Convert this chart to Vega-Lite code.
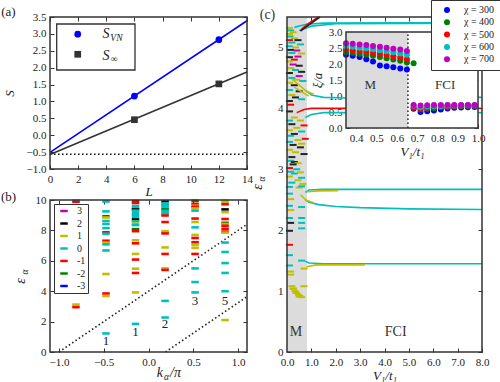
{
"$schema": "https://vega.github.io/schema/vega-lite/v6.json",
"width": 500, "height": 382,
"autosize": {"type": "none"},
"padding": 0,
"background": "white",
"config": {
  "view": {"stroke": null},
  "font": "Liberation Serif",
  "axis": {"grid": false, "domain": false, "tickColor": "#333", "tickSize": -4, "tickWidth": 1, "labelPadding": 8, "labelFont": "Liberation Serif", "labelFontSize": 11, "labelColor": "#222", "labelFlush": false, "labelOverlap": false, "labelBound": false, "titleFont": "Liberation Serif", "titleFontWeight": "normal", "titleFontSize": 13, "titleColor": "#222"},
  "legend": {"labelFont": "Liberation Serif", "labelColor": "#222", "strokeColor": "#333", "fillColor": "white", "title": null},
  "text": {"font": "Liberation Serif", "color": "#222"}
},
"datasets": {
  "a_pts": [{"x":6,"y":1.16,"s":"SVN"},{"x":12,"y":2.83,"s":"SVN"},{"x":6,"y":0.46,"s":"Sinf"},{"x":12,"y":1.52,"s":"Sinf"}],
  "a_fit": [{"x":0,"y":-0.51,"s":"SVN"},{"x":14,"y":3.39,"s":"SVN"},{"x":0,"y":-0.57,"s":"Sinf"},{"x":14,"y":1.87,"s":"Sinf"}],
  "a_ref": [{"x":0,"y":-0.56},{"x":14,"y":-0.56}],
  "a_frame": [{"x":0,"x2":14,"y":-1,"y2":3.5}],
  "a_legbox": [{"x":0.476,"x2":6.04,"y":1.931,"y2":3.293}],
  "a_legpts": [{"x":1.97,"y":2.99,"s":"SVN"},{"x":1.97,"y":2.396,"s":"Sinf"}],
  "a_txt_main": [{"x":3.98,"y":2.997,"t":"S"},{"x":3.98,"y":2.36,"t":"S"}],
  "a_txt_sub": [{"x":4.72,"y":2.878,"t":"VN"},{"x":4.55,"y":2.271,"t":"∞"}],
  "a_label": [{"x":-2.95,"y":3.65,"t":"(a)"}],
  "b_frame": [{"x":-1.1,"x2":1.1,"y":0,"y2":10}],
  "b_lines": [{"x":-1.0,"y":0,"id":"l1"},{"x":1.1,"y":8.4,"id":"l1"},{"x":0.19,"y":0,"id":"l2"},{"x":1.1,"y":3.64,"id":"l2"}],
  "b_dash": [
    {"x":-0.81,"y":9.95,"q":"0"},{"x":-0.81,"y":9.88,"q":"-1"},{"x":-0.81,"y":3.12,"q":"1"},{"x":-0.81,"y":2.95,"q":"-1"},
    {"x":-0.475,"y":9.9,"q":"0"},{"x":-0.475,"y":9.25,"q":"0"},{"x":-0.475,"y":8.93,"q":"-2"},{"x":-0.475,"y":8.85,"q":"1"},{"x":-0.475,"y":8.62,"q":"0"},{"x":-0.475,"y":8.42,"q":"0"},{"x":-0.475,"y":8.15,"q":"0"},{"x":-0.475,"y":7.88,"q":"-1"},{"x":-0.475,"y":7.78,"q":"0"},{"x":-0.475,"y":7.32,"q":"-1"},{"x":-0.475,"y":7.2,"q":"1"},{"x":-0.475,"y":7.08,"q":"0"},{"x":-0.475,"y":6.68,"q":"0"},{"x":-0.475,"y":5.13,"q":"1"},{"x":-0.475,"y":3.85,"q":"-1"},{"x":-0.475,"y":3.68,"q":"1"},{"x":-0.475,"y":1.22,"q":"0"},
    {"x":-0.145,"y":9.93,"q":"-1"},{"x":-0.145,"y":9.8,"q":"-1"},{"x":-0.145,"y":9.6,"q":"0"},{"x":-0.145,"y":9.45,"q":"0"},{"x":-0.145,"y":9.38,"q":"2"},{"x":-0.145,"y":9.3,"q":"0"},{"x":-0.145,"y":9.15,"q":"0"},{"x":-0.145,"y":9.02,"q":"0"},{"x":-0.145,"y":8.88,"q":"0"},{"x":-0.145,"y":8.72,"q":"2"},{"x":-0.145,"y":8.6,"q":"0"},{"x":-0.145,"y":8.45,"q":"1"},{"x":-0.145,"y":8.35,"q":"0"},{"x":-0.145,"y":8.08,"q":"-2"},{"x":-0.145,"y":7.95,"q":"-1"},{"x":-0.145,"y":7.35,"q":"1"},{"x":-0.145,"y":7.15,"q":"-1"},{"x":-0.145,"y":6.45,"q":"1"},{"x":-0.145,"y":6.08,"q":"-1"},{"x":-0.145,"y":5.48,"q":"1"},{"x":-0.145,"y":5.2,"q":"-1"},{"x":-0.145,"y":3.92,"q":"1"},{"x":-0.145,"y":1.85,"q":"0"},
    {"x":0.185,"y":9.9,"q":"2"},{"x":0.185,"y":9.78,"q":"0"},{"x":0.185,"y":9.68,"q":"0"},{"x":0.185,"y":9.58,"q":"0"},{"x":0.185,"y":9.45,"q":"0"},{"x":0.185,"y":9.38,"q":"-2"},{"x":0.185,"y":9.28,"q":"0"},{"x":0.185,"y":9.18,"q":"0"},{"x":0.185,"y":9.08,"q":"0"},{"x":0.185,"y":8.98,"q":"-1"},{"x":0.185,"y":8.55,"q":"-1"},{"x":0.185,"y":7.95,"q":"1"},{"x":0.185,"y":7.86,"q":"1"},{"x":0.185,"y":7.8,"q":"-1"},{"x":0.185,"y":6.88,"q":"1"},{"x":0.185,"y":6.45,"q":"-1"},{"x":0.185,"y":5.5,"q":"1"},{"x":0.185,"y":5.4,"q":"-1"},{"x":0.185,"y":3.36,"q":"0"},{"x":0.185,"y":2.27,"q":"0"},
    {"x":0.52,"y":9.95,"q":"-2"},{"x":0.52,"y":9.75,"q":"-1"},{"x":0.52,"y":9.62,"q":"1"},{"x":0.52,"y":9.55,"q":"-1"},{"x":0.52,"y":9.45,"q":"1"},{"x":0.52,"y":9.3,"q":"0"},{"x":0.52,"y":8.78,"q":"-1"},{"x":0.52,"y":8.55,"q":"1"},{"x":0.52,"y":8.2,"q":"0"},{"x":0.52,"y":7.7,"q":"1"},{"x":0.52,"y":7.5,"q":"-1"},{"x":0.52,"y":7.22,"q":"-1"},{"x":0.52,"y":7.05,"q":"1"},{"x":0.52,"y":6.85,"q":"1"},{"x":0.52,"y":6.45,"q":"-1"},{"x":0.52,"y":5.5,"q":"0"},{"x":0.52,"y":4.6,"q":"0"},{"x":0.52,"y":3.92,"q":"0"},
    {"x":0.855,"y":9.95,"q":"1"},{"x":0.855,"y":9.85,"q":"1"},{"x":0.855,"y":9.72,"q":"-1"},{"x":0.855,"y":9.38,"q":"2"},{"x":0.855,"y":9.2,"q":"1"},{"x":0.855,"y":8.75,"q":"-1"},{"x":0.855,"y":8.5,"q":"-2"},{"x":0.855,"y":8.42,"q":"1"},{"x":0.855,"y":8.3,"q":"-1"},{"x":0.855,"y":8.1,"q":"-1"},{"x":0.855,"y":7.92,"q":"-1"},{"x":0.855,"y":7.85,"q":"1"},{"x":0.855,"y":7.2,"q":"0"},{"x":0.855,"y":6.58,"q":"0"},{"x":0.855,"y":5.85,"q":"0"},{"x":0.855,"y":5.2,"q":"0"},{"x":0.855,"y":4.0,"q":"0"},{"x":0.855,"y":2.1,"q":"1"}
  ],
  "b_num": [{"x":-0.475,"y":0.74,"t":"1"},{"x":-0.145,"y":1.34,"t":"1"},{"x":0.185,"y":1.82,"t":"2"},{"x":0.52,"y":3.37,"t":"3"},{"x":0.855,"y":3.37,"t":"5"}],
  "b_label": [{"x":-1.563,"y":10.2,"t":"(b)"}],
  "b_eps": [{"x":-1.424,"y":4.67,"t":"ε"}],
  "b_eps_sub": [{"x":-1.379,"y":5.26,"t":"α"}],
  "b_xt": [{"x":0.128,"y":-1.38,"t":"k"}],
  "b_xt_sub": [{"x":0.201,"y":-1.64,"t":"α"}],
  "b_xt_rest": [{"x":0.302,"y":-1.38,"t":"/π"}],
  "c_frame": [{"x":0,"x2":8,"y":0,"y2":5.5}],
  "c_gray": [{"x":0,"x2":0.82,"y":0,"y2":5.5}],
  "c_lines": [
    {"id":"top1","q":"0","x":0.3,"y":5.33},{"id":"top1","q":"0","x":0.8,"y":5.38},{"id":"top1","q":"0","x":1.5,"y":5.4},{"id":"top1","q":"0","x":8,"y":5.41},
    {"id":"top2","q":"0","x":0.5,"y":5.28},{"id":"top2","q":"0","x":1.0,"y":5.35},{"id":"top2","q":"0","x":2.0,"y":5.39},{"id":"top2","q":"0","x":8,"y":5.4},
    {"id":"topr","q":"-1","x":0.6,"y":5.3},{"id":"topr","q":"-1","x":0.9,"y":5.4},{"id":"topr","q":"-1","x":1.3,"y":5.5},
    {"id":"topk","q":"2","x":0.55,"y":5.27},{"id":"topk","q":"2","x":0.9,"y":5.37},{"id":"topk","q":"2","x":1.35,"y":5.5},
    {"id":"r4","q":"-1","x":0.4,"y":3.93},{"id":"r4","q":"-1","x":0.7,"y":3.98},{"id":"r4","q":"-1","x":1.0,"y":4.0},{"id":"r4","q":"-1","x":8,"y":4.0},
    {"id":"c41","q":"0","x":0.75,"y":4.3},{"id":"c41","q":"0","x":1.0,"y":4.22},{"id":"c41","q":"0","x":1.5,"y":4.18},{"id":"c41","q":"0","x":2.5,"y":4.17},{"id":"c41","q":"0","x":8,"y":4.18},
    {"id":"c42","q":"0","x":0.75,"y":3.85},{"id":"c42","q":"0","x":1.0,"y":3.9},{"id":"c42","q":"0","x":1.5,"y":3.93},{"id":"c42","q":"0","x":8,"y":3.93},
    {"id":"y41","q":"1","x":0.2,"y":4.48},{"id":"y41","q":"1","x":0.5,"y":4.38},{"id":"y41","q":"1","x":0.8,"y":4.28},{"id":"y41","q":"1","x":1.1,"y":4.23},
    {"id":"y42","q":"1","x":0.3,"y":4.35},{"id":"y42","q":"1","x":0.6,"y":4.27},{"id":"y42","q":"1","x":0.9,"y":4.2},
    {"id":"c267","q":"0","x":0.75,"y":2.62},{"id":"c267","q":"0","x":0.9,"y":2.66},{"id":"c267","q":"0","x":1.5,"y":2.67},{"id":"c267","q":"0","x":8,"y":2.67},
    {"id":"y265","q":"1","x":0.8,"y":2.63},{"id":"y265","q":"1","x":1.3,"y":2.645},{"id":"y265","q":"1","x":2.1,"y":2.65},
    {"id":"c235","q":"0","x":0.75,"y":2.5},{"id":"c235","q":"0","x":0.9,"y":2.46},{"id":"c235","q":"0","x":1.3,"y":2.42},{"id":"c235","q":"0","x":2,"y":2.39},{"id":"c235","q":"0","x":3,"y":2.37},{"id":"c235","q":"0","x":5,"y":2.35},{"id":"c235","q":"0","x":8,"y":2.34},
    {"id":"y245","q":"1","x":0.55,"y":2.58},{"id":"y245","q":"1","x":0.8,"y":2.49},{"id":"y245","q":"1","x":1.1,"y":2.45},
    {"id":"c145","q":"0","x":0.75,"y":1.49},{"id":"c145","q":"0","x":0.9,"y":1.46},{"id":"c145","q":"0","x":1.5,"y":1.45},{"id":"c145","q":"0","x":8,"y":1.45},
    {"id":"y143","q":"1","x":0.8,"y":1.4},{"id":"y143","q":"1","x":1.2,"y":1.43},{"id":"y143","q":"1","x":3.2,"y":1.43}
  ],
  "c_dash": [
    {"x":0.1,"y":5.32,"q":"1"},{"x":0.15,"y":5.28,"q":"0"},{"x":0.1,"y":5.22,"q":"1"},{"x":0.25,"y":5.25,"q":"1"},{"x":0.12,"y":5.18,"q":"0"},{"x":0.3,"y":5.15,"q":"1"},
    {"x":0.1,"y":5.12,"q":"-1"},{"x":0.45,"y":5.12,"q":"2"},{"x":0.2,"y":5.08,"q":"0"},{"x":0.1,"y":5.02,"q":"0"},{"x":0.35,"y":5.0,"q":"1"},{"x":0.55,"y":5.05,"q":"0"},
    {"x":0.15,"y":4.96,"q":"2"},{"x":0.4,"y":4.95,"q":"3"},{"x":0.2,"y":4.91,"q":"0"},{"x":0.6,"y":4.9,"q":"1"},{"x":0.45,"y":4.85,"q":"3"},{"x":0.1,"y":4.84,"q":"2"},
    {"x":0.3,"y":4.8,"q":"-1"},{"x":0.1,"y":4.77,"q":"1"},{"x":0.25,"y":4.72,"q":"3"},{"x":0.5,"y":4.7,"q":"2"},{"x":0.15,"y":4.66,"q":"1"},{"x":0.35,"y":4.63,"q":"0"},
    {"x":0.6,"y":4.6,"q":"2"},{"x":0.1,"y":4.58,"q":"2"},{"x":0.5,"y":4.53,"q":"3"},{"x":0.2,"y":4.5,"q":"0"},{"x":0.4,"y":4.47,"q":"1"},{"x":0.1,"y":4.42,"q":"1"},
    {"x":0.65,"y":4.45,"q":"0"},{"x":0.3,"y":4.38,"q":"2"},{"x":0.1,"y":4.3,"q":"0"},{"x":0.5,"y":4.28,"q":"2"},{"x":0.2,"y":4.22,"q":"1"},{"x":0.35,"y":4.18,"q":"2"},{"x":0.6,"y":4.15,"q":"0"},{"x":0.1,"y":4.12,"q":"2"},{"x":0.15,"y":4.06,"q":"-1"},
    {"x":0.1,"y":3.95,"q":"2"},{"x":0.3,"y":3.85,"q":"1"},{"x":0.1,"y":3.8,"q":"0"},{"x":0.55,"y":3.8,"q":"1"},{"x":0.2,"y":3.74,"q":"2"},{"x":0.7,"y":3.72,"q":"-1"},{"x":0.4,"y":3.68,"q":"1"},
    {"x":0.1,"y":3.64,"q":"1"},{"x":0.6,"y":3.62,"q":"0"},{"x":0.3,"y":3.58,"q":"2"},{"x":0.15,"y":3.55,"q":"0"},{"x":0.75,"y":3.5,"q":"-1"},{"x":0.45,"y":3.48,"q":"1"},
    {"x":0.1,"y":3.45,"q":"0"},{"x":0.6,"y":3.42,"q":"1"},{"x":0.25,"y":3.4,"q":"2"},{"x":0.55,"y":3.36,"q":"2"},{"x":0.1,"y":3.32,"q":"1"},{"x":0.35,"y":3.28,"q":"1"},
    {"x":0.7,"y":3.25,"q":"2"},{"x":0.2,"y":3.2,"q":"2"},{"x":0.15,"y":3.14,"q":"0"},{"x":0.3,"y":3.12,"q":"2"},{"x":0.45,"y":3.1,"q":"1"},{"x":0.25,"y":3.08,"q":"2"},{"x":0.1,"y":3.02,"q":"-1"},
    {"x":0.4,"y":3.0,"q":"0"},{"x":0.15,"y":2.96,"q":"0"},{"x":0.3,"y":2.93,"q":"0"},{"x":0.55,"y":2.95,"q":"1"},{"x":0.1,"y":2.88,"q":"1"},{"x":0.6,"y":2.86,"q":"0"},
    {"x":0.45,"y":2.82,"q":"1"},{"x":0.2,"y":2.78,"q":"0"},{"x":0.65,"y":2.76,"q":"1"},{"x":0.1,"y":2.71,"q":"0"},{"x":0.5,"y":2.7,"q":"1"},
    {"x":0.6,"y":2.72,"q":"0"},{"x":0.1,"y":2.6,"q":"0"},{"x":0.15,"y":2.51,"q":"1"},{"x":0.1,"y":2.4,"q":"0"},{"x":0.6,"y":2.38,"q":"0"},
    {"x":0.15,"y":2.33,"q":"1"},{"x":0.1,"y":2.2,"q":"0"},{"x":0.6,"y":2.2,"q":"0"},{"x":0.15,"y":2.12,"q":"2"},{"x":0.6,"y":2.12,"q":"0"},{"x":0.6,"y":2.03,"q":"0"},{"x":0.1,"y":1.99,"q":"2"},
    {"x":0.1,"y":1.76,"q":"-1"},{"x":0.1,"y":1.59,"q":"0"},{"x":0.1,"y":1.42,"q":"0"},{"x":0.6,"y":1.5,"q":"0"},{"x":0.15,"y":1.32,"q":"1"},{"x":0.15,"y":1.27,"q":"1"},
    {"x":0.7,"y":1.37,"q":"1"},{"x":0.7,"y":1.08,"q":"1"},
    {"x":0.2,"y":1.08,"q":"1"},{"x":0.27,"y":1.04,"q":"1"},{"x":0.33,"y":1.0,"q":"1"},{"x":0.4,"y":0.97,"q":"1"},{"x":0.47,"y":0.94,"q":"1"},{"x":0.53,"y":0.92,"q":"1"},{"x":0.6,"y":0.9,"q":"1"},
    {"x":0.25,"y":1.04,"q":"1"},{"x":0.37,"y":0.97,"q":"1"},{"x":0.5,"y":0.91,"q":"1"}
  ],
  "c_txt": [{"x":0.37,"y":0.33,"t":"M"},{"x":4.46,"y":0.33,"t":"FCI"},{"x":-0.8,"y":5.53,"t":"(c)"}],
  "c_eps": [{"x":-1.19,"y":2.71,"t":"ε"}],
  "c_eps_sub": [{"x":-1.026,"y":2.84,"t":"α"}],
  "i_box": [{"x":0.35,"x2":1.0,"y":0,"y2":3}],
  "i_gray": [{"x":0.35,"x2":0.655,"y":0,"y2":3}],
  "i_vline": [{"x":0.655,"y":0,"y2":3}],
  "i_txt": [{"x":0.469,"y":1.34,"t":"M"},{"x":0.838,"y":1.34,"t":"FCI"}],
  "i_pts": [
    {"chi":"χ = 300","x":0.35,"y":2.29},{"chi":"χ = 300","x":0.383,"y":2.26},{"chi":"χ = 300","x":0.417,"y":2.22},{"chi":"χ = 300","x":0.45,"y":2.15},{"chi":"χ = 300","x":0.483,"y":2.08},{"chi":"χ = 300","x":0.517,"y":1.95},{"chi":"χ = 300","x":0.55,"y":1.93},{"chi":"χ = 300","x":0.583,"y":1.9},{"chi":"χ = 300","x":0.617,"y":1.86},{"chi":"χ = 300","x":0.65,"y":1.83},
    {"chi":"χ = 300","x":0.683,"y":0.6},{"chi":"χ = 300","x":0.717,"y":0.5},{"chi":"χ = 300","x":0.75,"y":0.52},{"chi":"χ = 300","x":0.783,"y":0.55},{"chi":"χ = 300","x":0.817,"y":0.58},{"chi":"χ = 300","x":0.85,"y":0.61},{"chi":"χ = 300","x":0.883,"y":0.63},{"chi":"χ = 300","x":0.917,"y":0.64},{"chi":"χ = 300","x":0.95,"y":0.65},{"chi":"χ = 300","x":0.983,"y":0.66},
    {"chi":"χ = 400","x":0.35,"y":2.37},{"chi":"χ = 400","x":0.383,"y":2.35},{"chi":"χ = 400","x":0.417,"y":2.32},{"chi":"χ = 400","x":0.45,"y":2.29},{"chi":"χ = 400","x":0.483,"y":2.26},{"chi":"χ = 400","x":0.517,"y":2.22},{"chi":"χ = 400","x":0.55,"y":2.18},{"chi":"χ = 400","x":0.583,"y":2.14},{"chi":"χ = 400","x":0.617,"y":2.1},{"chi":"χ = 400","x":0.65,"y":2.05},
    {"chi":"χ = 400","x":0.683,"y":2.02},{"chi":"χ = 400","x":0.717,"y":0.58},{"chi":"χ = 400","x":0.75,"y":0.6},{"chi":"χ = 400","x":0.783,"y":0.62},{"chi":"χ = 400","x":0.817,"y":0.65},{"chi":"χ = 400","x":0.85,"y":0.66},{"chi":"χ = 400","x":0.883,"y":0.67},{"chi":"χ = 400","x":0.917,"y":0.68},{"chi":"χ = 400","x":0.95,"y":0.69},{"chi":"χ = 400","x":0.983,"y":0.69},
    {"chi":"χ = 500","x":0.35,"y":2.45},{"chi":"χ = 500","x":0.383,"y":2.43},{"chi":"χ = 500","x":0.417,"y":2.4},{"chi":"χ = 500","x":0.45,"y":2.38},{"chi":"χ = 500","x":0.483,"y":2.35},{"chi":"χ = 500","x":0.517,"y":2.32},{"chi":"χ = 500","x":0.55,"y":2.28},{"chi":"χ = 500","x":0.583,"y":2.24},{"chi":"χ = 500","x":0.617,"y":2.2},{"chi":"χ = 500","x":0.65,"y":2.15},
    {"chi":"χ = 500","x":0.683,"y":0.63},{"chi":"χ = 500","x":0.717,"y":0.61},{"chi":"χ = 500","x":0.75,"y":0.63},{"chi":"χ = 500","x":0.783,"y":0.65},{"chi":"χ = 500","x":0.817,"y":0.67},{"chi":"χ = 500","x":0.85,"y":0.68},{"chi":"χ = 500","x":0.883,"y":0.69},{"chi":"χ = 500","x":0.917,"y":0.7},{"chi":"χ = 500","x":0.95,"y":0.7},{"chi":"χ = 500","x":0.983,"y":0.7},
    {"chi":"χ = 600","x":0.35,"y":2.56},{"chi":"χ = 600","x":0.383,"y":2.54},{"chi":"χ = 600","x":0.417,"y":2.51},{"chi":"χ = 600","x":0.45,"y":2.49},{"chi":"χ = 600","x":0.483,"y":2.46},{"chi":"χ = 600","x":0.517,"y":2.43},{"chi":"χ = 600","x":0.55,"y":2.4},{"chi":"χ = 600","x":0.583,"y":2.37},{"chi":"χ = 600","x":0.617,"y":2.33},{"chi":"χ = 600","x":0.65,"y":2.29},
    {"chi":"χ = 600","x":0.683,"y":0.7},{"chi":"χ = 600","x":0.717,"y":0.66},{"chi":"χ = 600","x":0.75,"y":0.67},{"chi":"χ = 600","x":0.783,"y":0.68},{"chi":"χ = 600","x":0.817,"y":0.69},{"chi":"χ = 600","x":0.85,"y":0.7},{"chi":"χ = 600","x":0.883,"y":0.7},{"chi":"χ = 600","x":0.917,"y":0.71},{"chi":"χ = 600","x":0.95,"y":0.71},{"chi":"χ = 600","x":0.983,"y":0.71},
    {"chi":"χ = 700","x":0.35,"y":2.65},{"chi":"χ = 700","x":0.383,"y":2.63},{"chi":"χ = 700","x":0.417,"y":2.61},{"chi":"χ = 700","x":0.45,"y":2.59},{"chi":"χ = 700","x":0.483,"y":2.56},{"chi":"χ = 700","x":0.517,"y":2.54},{"chi":"χ = 700","x":0.55,"y":2.51},{"chi":"χ = 700","x":0.583,"y":2.48},{"chi":"χ = 700","x":0.617,"y":2.45},{"chi":"χ = 700","x":0.65,"y":2.41},
    {"chi":"χ = 700","x":0.683,"y":0.72},{"chi":"χ = 700","x":0.717,"y":0.7},{"chi":"χ = 700","x":0.75,"y":0.71},{"chi":"χ = 700","x":0.783,"y":0.72},{"chi":"χ = 700","x":0.817,"y":0.72},{"chi":"χ = 700","x":0.85,"y":0.72},{"chi":"χ = 700","x":0.883,"y":0.72},{"chi":"χ = 700","x":0.917,"y":0.72},{"chi":"χ = 700","x":0.95,"y":0.72},{"chi":"χ = 700","x":0.983,"y":0.72}
  ]
},
"layer": [
  {
    "layer": [
      {"data": {"name": "a_ref"}, "mark": {"type": "line", "color": "black", "strokeDash": [1.5, 2.5], "strokeWidth": 1.5},
       "encoding": {"x": {"field": "x", "type": "quantitative", "scale": {"domain": [0, 14], "range": [50, 247], "nice": false, "zero": false}, "axis": null},
                    "y": {"field": "y", "type": "quantitative", "scale": {"domain": [-1, 3.5], "range": [169, 17], "nice": false, "zero": false}, "axis": null}}},
      {"data": {"name": "a_fit"}, "mark": {"type": "line", "strokeWidth": 1.6},
       "encoding": {"x": {"field": "x", "type": "quantitative", "scale": {"domain": [0, 14], "range": [50, 247], "nice": false, "zero": false}, "axis": null},
                    "y": {"field": "y", "type": "quantitative", "scale": {"domain": [-1, 3.5], "range": [169, 17], "nice": false, "zero": false}, "axis": null},
                    "color": {"field": "s", "type": "nominal", "scale": {"domain": ["SVN", "Sinf"], "range": ["#0000ff", "#333333"]}, "legend": null}}},
      {"data": {"name": "a_pts"}, "mark": {"type": "point", "filled": true, "size": 45, "opacity": 1},
       "encoding": {"x": {"field": "x", "type": "quantitative", "scale": {"domain": [0, 14], "range": [50, 247], "nice": false, "zero": false},
                          "axis": {"orient": "bottom", "offset": -213, "values": [0, 2, 4, 6, 8, 10, 12, 14], "format": "d", "title": "L", "titleFontStyle": "italic", "titlePadding": 1}},
                    "y": {"field": "y", "type": "quantitative", "scale": {"domain": [-1, 3.5], "range": [169, 17], "nice": false, "zero": false},
                          "axis": {"orient": "left", "offset": -50, "values": [-1, -0.5, 0, 0.5, 1, 1.5, 2, 2.5, 3, 3.5], "format": ".1f", "title": "S", "titleFontStyle": "italic", "titlePadding": 10}},
                    "color": {"field": "s", "type": "nominal", "scale": {"domain": ["SVN", "Sinf"], "range": ["#0000ff", "#333333"]}, "legend": null},
                    "shape": {"field": "s", "type": "nominal", "scale": {"domain": ["SVN", "Sinf"], "range": ["circle", "square"]}, "legend": null}}},
      {"data": {"name": "a_frame"}, "mark": {"type": "rect", "filled": false, "stroke": "#333", "strokeWidth": 1.5},
       "encoding": {"x": {"field": "x", "type": "quantitative", "scale": {"domain": [0, 14], "range": [50, 247], "nice": false, "zero": false},
                          "axis": {"orient": "top", "offset": -17, "values": [0, 2, 4, 6, 8, 10, 12, 14], "labels": false, "title": null}},
                    "x2": {"field": "x2"},
                    "y": {"field": "y", "type": "quantitative", "scale": {"domain": [-1, 3.5], "range": [169, 17], "nice": false, "zero": false},
                          "axis": {"orient": "right", "offset": -253, "values": [-1, -0.5, 0, 0.5, 1, 1.5, 2, 2.5, 3, 3.5], "labels": false, "title": null}},
                    "y2": {"field": "y2"}}},
      {"data": {"name": "a_legbox"}, "mark": {"type": "rect", "fill": "white", "stroke": "#333", "strokeWidth": 1.3},
       "encoding": {"x": {"field": "x", "type": "quantitative", "axis": null}, "x2": {"field": "x2"},
                    "y": {"field": "y", "type": "quantitative", "axis": null}, "y2": {"field": "y2"}}},
      {"data": {"name": "a_legpts"}, "mark": {"type": "point", "filled": true, "size": 45, "opacity": 1},
       "encoding": {"x": {"field": "x", "type": "quantitative", "axis": null}, "y": {"field": "y", "type": "quantitative", "axis": null},
                    "color": {"field": "s", "type": "nominal", "legend": null}, "shape": {"field": "s", "type": "nominal", "legend": null}}},
      {"data": {"name": "a_txt_main"}, "mark": {"type": "text", "fontSize": 14, "fontStyle": "italic", "align": "center", "baseline": "middle"},
       "encoding": {"x": {"field": "x", "type": "quantitative", "axis": null}, "y": {"field": "y", "type": "quantitative", "axis": null}, "text": {"field": "t", "type": "nominal"}}},
      {"data": {"name": "a_txt_sub"}, "mark": {"type": "text", "fontSize": 9.5, "fontStyle": "italic", "align": "center", "baseline": "middle"},
       "encoding": {"x": {"field": "x", "type": "quantitative", "axis": null}, "y": {"field": "y", "type": "quantitative", "axis": null}, "text": {"field": "t", "type": "nominal"}}},
      {"data": {"name": "a_label"}, "mark": {"type": "text", "fontSize": 13, "align": "center", "baseline": "middle"},
       "encoding": {"x": {"field": "x", "type": "quantitative", "axis": null}, "y": {"field": "y", "type": "quantitative", "axis": null}, "text": {"field": "t", "type": "nominal"}}}
    ],
    "resolve": {"axis": {"x": "independent", "y": "independent"}}
  },
  {
    "layer": [
      {"data": {"name": "b_lines"}, "mark": {"type": "line", "color": "#222", "strokeDash": [1.5, 2.5], "strokeWidth": 1.6},
       "encoding": {"x": {"field": "x", "type": "quantitative", "scale": {"domain": [-1.1, 1.1], "range": [50, 247], "nice": false, "zero": false}, "axis": null},
                    "y": {"field": "y", "type": "quantitative", "scale": {"domain": [0, 10], "range": [352, 200], "nice": false, "zero": false}, "axis": null},
                    "detail": {"field": "id", "type": "nominal"}}},
      {"data": {"name": "b_dash"}, "mark": {"type": "tick", "orient": "horizontal", "size": 7.5, "thickness": 2.6, "opacity": 1},
       "encoding": {"x": {"field": "x", "type": "quantitative", "scale": {"domain": [-1.1, 1.1], "range": [50, 247], "nice": false, "zero": false},
                          "axis": {"orient": "bottom", "offset": -30, "values": [-1, -0.5, 0, 0.5, 1], "format": ".1f", "title": null}},
                    "y": {"field": "y", "type": "quantitative", "scale": {"domain": [0, 10], "range": [352, 200], "nice": false, "zero": false},
                          "axis": {"orient": "left", "offset": -50, "values": [0, 2, 4, 6, 8, 10], "format": "d", "title": null}},
                    "color": {"field": "q", "type": "nominal", "scale": {"domain": ["3", "2", "1", "0", "-1", "-2", "-3"], "range": ["#bf00bf", "#000000", "#bfbf00", "#00bfbf", "#ff0000", "#008000", "#0000ff"]},
                              "legend": {"orient": "none", "legendX": 54, "legendY": 204, "symbolType": "M-1,-0.33H1V0.33H-1Z", "symbolSize": 56, "symbolOffset": 3, "labelFontSize": 10, "labelOffset": 8, "rowPadding": 2.5, "padding": 2, "strokeColor": "#333"}}}},
      {"data": {"name": "b_frame"}, "mark": {"type": "rect", "filled": false, "stroke": "#333", "strokeWidth": 1.5},
       "encoding": {"x": {"field": "x", "type": "quantitative", "scale": {"domain": [-1.1, 1.1], "range": [50, 247], "nice": false, "zero": false},
                          "axis": {"orient": "top", "offset": -200, "values": [-1, -0.5, 0, 0.5, 1], "labels": false, "title": null}},
                    "x2": {"field": "x2"},
                    "y": {"field": "y", "type": "quantitative", "scale": {"domain": [0, 10], "range": [352, 200], "nice": false, "zero": false},
                          "axis": {"orient": "right", "offset": -253, "values": [0, 2, 4, 6, 8, 10], "labels": false, "title": null}},
                    "y2": {"field": "y2"}}},
      {"data": {"name": "b_num"}, "mark": {"type": "text", "fontSize": 13, "align": "center", "baseline": "middle"},
       "encoding": {"x": {"field": "x", "type": "quantitative", "axis": null}, "y": {"field": "y", "type": "quantitative", "axis": null}, "text": {"field": "t", "type": "nominal"}}},
      {"data": {"name": "b_label"}, "mark": {"type": "text", "fontSize": 13, "align": "center", "baseline": "middle"},
       "encoding": {"x": {"field": "x", "type": "quantitative", "axis": null}, "y": {"field": "y", "type": "quantitative", "axis": null}, "text": {"field": "t", "type": "nominal"}}},
      {"data": {"name": "b_eps"}, "mark": {"type": "text", "fontSize": 14, "fontStyle": "italic", "angle": 270, "align": "center", "baseline": "middle"},
       "encoding": {"x": {"field": "x", "type": "quantitative", "axis": null}, "y": {"field": "y", "type": "quantitative", "axis": null}, "text": {"field": "t", "type": "nominal"}}},
      {"data": {"name": "b_eps_sub"}, "mark": {"type": "text", "fontSize": 9.5, "fontStyle": "italic", "angle": 270, "align": "center", "baseline": "middle"},
       "encoding": {"x": {"field": "x", "type": "quantitative", "axis": null}, "y": {"field": "y", "type": "quantitative", "axis": null}, "text": {"field": "t", "type": "nominal"}}},
      {"data": {"name": "b_xt"}, "mark": {"type": "text", "fontSize": 14, "fontStyle": "italic", "align": "center", "baseline": "middle"},
       "encoding": {"x": {"field": "x", "type": "quantitative", "axis": null}, "y": {"field": "y", "type": "quantitative", "axis": null}, "text": {"field": "t", "type": "nominal"}}},
      {"data": {"name": "b_xt_sub"}, "mark": {"type": "text", "fontSize": 9.5, "fontStyle": "italic", "align": "center", "baseline": "middle"},
       "encoding": {"x": {"field": "x", "type": "quantitative", "axis": null}, "y": {"field": "y", "type": "quantitative", "axis": null}, "text": {"field": "t", "type": "nominal"}}},
      {"data": {"name": "b_xt_rest"}, "mark": {"type": "text", "fontSize": 14, "fontStyle": "italic", "align": "center", "baseline": "middle"},
       "encoding": {"x": {"field": "x", "type": "quantitative", "axis": null}, "y": {"field": "y", "type": "quantitative", "axis": null}, "text": {"field": "t", "type": "nominal"}}}
    ],
    "resolve": {"axis": {"x": "independent", "y": "independent"}}
  },
  {
    "layer": [
      {"data": {"name": "c_gray"}, "mark": {"type": "rect", "fill": "#dcdcdc", "strokeWidth": 0},
       "encoding": {"x": {"field": "x", "type": "quantitative", "scale": {"domain": [0, 8], "range": [287, 482], "nice": false, "zero": false}, "axis": null},
                    "x2": {"field": "x2"},
                    "y": {"field": "y", "type": "quantitative", "scale": {"domain": [0, 5.5], "range": [352, 17], "nice": false, "zero": false}, "axis": null},
                    "y2": {"field": "y2"}}},
      {"data": {"name": "c_dash"}, "mark": {"type": "tick", "orient": "horizontal", "size": 7, "thickness": 2, "opacity": 1},
       "encoding": {"x": {"field": "x", "type": "quantitative", "scale": {"domain": [0, 8], "range": [287, 482], "nice": false, "zero": false}, "axis": null},
                    "y": {"field": "y", "type": "quantitative", "scale": {"domain": [0, 5.5], "range": [352, 17], "nice": false, "zero": false}, "axis": null},
                    "color": {"field": "q", "type": "nominal", "scale": {"domain": ["3", "2", "1", "0", "-1", "-2", "-3"], "range": ["#bf00bf", "#222222", "#bfbf00", "#00bfbf", "#ff0000", "#008000", "#0000ff"]}, "legend": null}}},
      {"data": {"name": "c_lines"}, "mark": {"type": "line", "strokeWidth": 1.6},
       "encoding": {"x": {"field": "x", "type": "quantitative", "scale": {"domain": [0, 8], "range": [287, 482], "nice": false, "zero": false},
                          "axis": {"orient": "bottom", "offset": -30, "values": [0, 1, 2, 3, 4, 5, 6, 7, 8], "format": ".1f", "title": "V₁/t₁", "titleFontStyle": "italic", "titlePadding": 2}},
                    "y": {"field": "y", "type": "quantitative", "scale": {"domain": [0, 5.5], "range": [352, 17], "nice": false, "zero": false},
                          "axis": {"orient": "left", "offset": -287, "values": [0, 1, 2, 3, 4, 5], "format": "d", "title": null}},
                    "detail": {"field": "id", "type": "nominal"},
                    "color": {"field": "q", "type": "nominal", "legend": null}}},
      {"data": {"name": "c_frame"}, "mark": {"type": "rect", "filled": false, "stroke": "#333", "strokeWidth": 1.5},
       "encoding": {"x": {"field": "x", "type": "quantitative", "scale": {"domain": [0, 8], "range": [287, 482], "nice": false, "zero": false},
                          "axis": {"orient": "top", "offset": -17, "values": [0, 1, 2, 3, 4, 5, 6, 7, 8], "labels": false, "title": null}},
                    "x2": {"field": "x2"},
                    "y": {"field": "y", "type": "quantitative", "scale": {"domain": [0, 5.5], "range": [352, 17], "nice": false, "zero": false},
                          "axis": {"orient": "right", "offset": -18, "values": [0, 1, 2, 3, 4, 5], "labels": false, "title": null}},
                    "y2": {"field": "y2"}}},
      {"data": {"name": "c_txt"}, "mark": {"type": "text", "fontSize": 14, "align": "center", "baseline": "middle", "color": "#333"},
       "encoding": {"x": {"field": "x", "type": "quantitative", "axis": null}, "y": {"field": "y", "type": "quantitative", "axis": null}, "text": {"field": "t", "type": "nominal"}}},
      {"data": {"name": "c_eps"}, "mark": {"type": "text", "fontSize": 14, "fontStyle": "italic", "angle": 270, "align": "center", "baseline": "middle"},
       "encoding": {"x": {"field": "x", "type": "quantitative", "axis": null}, "y": {"field": "y", "type": "quantitative", "axis": null}, "text": {"field": "t", "type": "nominal"}}},
      {"data": {"name": "c_eps_sub"}, "mark": {"type": "text", "fontSize": 9.5, "fontStyle": "italic", "angle": 270, "align": "center", "baseline": "middle"},
       "encoding": {"x": {"field": "x", "type": "quantitative", "axis": null}, "y": {"field": "y", "type": "quantitative", "axis": null}, "text": {"field": "t", "type": "nominal"}}}
    ],
    "resolve": {"axis": {"x": "independent", "y": "independent"}}
  },
  {
    "layer": [
      {"data": {"name": "i_box"}, "mark": {"type": "rect", "fill": "white", "strokeWidth": 0},
       "encoding": {"x": {"field": "x", "type": "quantitative", "scale": {"domain": [0.35, 1.0], "range": [346, 478], "nice": false, "zero": false}, "axis": null},
                    "x2": {"field": "x2"},
                    "y": {"field": "y", "type": "quantitative", "scale": {"domain": [0, 3], "range": [128, 32], "nice": false, "zero": false}, "axis": null},
                    "y2": {"field": "y2"}}},
      {"data": {"name": "i_gray"}, "mark": {"type": "rect", "fill": "#dcdcdc", "strokeWidth": 0},
       "encoding": {"x": {"field": "x", "type": "quantitative", "axis": null}, "x2": {"field": "x2"},
                    "y": {"field": "y", "type": "quantitative", "axis": null}, "y2": {"field": "y2"}}},
      {"data": {"name": "i_vline"}, "mark": {"type": "rule", "color": "#222", "strokeDash": [1.5, 2.5], "strokeWidth": 1.5},
       "encoding": {"x": {"field": "x", "type": "quantitative", "axis": null},
                    "y": {"field": "y", "type": "quantitative", "axis": null}, "y2": {"field": "y2"}}},
      {"data": {"name": "i_pts"}, "mark": {"type": "circle", "size": 36, "opacity": 1},
       "encoding": {"x": {"field": "x", "type": "quantitative", "scale": {"domain": [0.35, 1.0], "range": [346, 478], "nice": false, "zero": false},
                          "axis": {"orient": "bottom", "offset": -254, "values": [0.4, 0.5, 0.6, 0.7, 0.8, 0.9, 1.0], "format": ".1f", "title": "V₁/t₁", "titleFontStyle": "italic", "titlePadding": 2}},
                    "y": {"field": "y", "type": "quantitative", "scale": {"domain": [0, 3], "range": [128, 32], "nice": false, "zero": false},
                          "axis": {"orient": "left", "offset": -346, "values": [0, 0.5, 1, 1.5, 2, 2.5, 3], "format": ".1f", "title": "ξ/a", "titleFontStyle": "italic", "titlePadding": 4}},
                    "color": {"field": "chi", "type": "nominal", "scale": {"domain": ["χ = 300", "χ = 400", "χ = 500", "χ = 600", "χ = 700"], "range": ["#0000ff", "#008000", "#ff0000", "#00bfbf", "#bf00bf"]},
                              "legend": {"orient": "none", "legendX": 431, "legendY": 0, "symbolType": "circle", "symbolSize": 36, "symbolOffset": 6, "labelFontSize": 10, "labelOffset": 12, "rowPadding": 2.3, "padding": 5, "strokeColor": "#333", "fillColor": "white"}}}},
      {"data": {"name": "i_box"}, "mark": {"type": "rect", "filled": false, "stroke": "#333", "strokeWidth": 1.5},
       "encoding": {"x": {"field": "x", "type": "quantitative", "axis": {"orient": "top", "offset": -32, "values": [0.4, 0.5, 0.6, 0.7, 0.8, 0.9, 1.0], "labels": false, "title": null}},
                    "x2": {"field": "x2"},
                    "y": {"field": "y", "type": "quantitative", "axis": {"orient": "right", "offset": -22, "values": [0, 0.5, 1, 1.5, 2, 2.5, 3], "labels": false, "title": null}},
                    "y2": {"field": "y2"}}},
      {"data": {"name": "i_txt"}, "mark": {"type": "text", "fontSize": 13, "align": "center", "baseline": "middle", "color": "#333"},
       "encoding": {"x": {"field": "x", "type": "quantitative", "axis": null}, "y": {"field": "y", "type": "quantitative", "axis": null}, "text": {"field": "t", "type": "nominal"}}}
    ],
    "resolve": {"axis": {"x": "independent", "y": "independent"}}
  }
],
"resolve": {"scale": {"x": "independent", "y": "independent", "color": "independent", "shape": "independent"}, "axis": {"x": "independent", "y": "independent"}, "legend": {"color": "independent"}}
}
